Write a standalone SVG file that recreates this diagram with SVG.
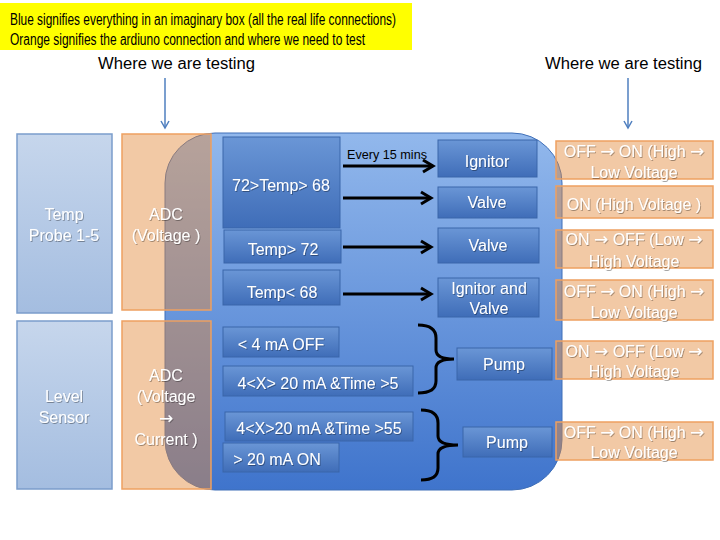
<svg xmlns="http://www.w3.org/2000/svg" width="720" height="540" viewBox="0 0 720 540">
<defs>
<linearGradient id="gBig" x1="0" y1="0" x2="0" y2="1">
<stop offset="0" stop-color="#92b8ec"/><stop offset="1" stop-color="#3f74cc"/>
</linearGradient>
<linearGradient id="gBox" x1="0" y1="0" x2="0" y2="1">
<stop offset="0" stop-color="#6a96d6"/><stop offset="1" stop-color="#3f6db8"/>
</linearGradient>
<linearGradient id="gLight" x1="0" y1="0" x2="0" y2="1">
<stop offset="0" stop-color="#c6d6ec"/><stop offset="1" stop-color="#a4bde0"/>
</linearGradient>
<filter id="sh" x="-10%" y="-20%" width="120%" height="140%">
<feDropShadow dx="0.8" dy="1" stdDeviation="0.6" flood-color="#000" flood-opacity="0.35"/>
</filter>
<marker id="ab" markerWidth="10" markerHeight="10" refX="8" refY="5" orient="auto" markerUnits="userSpaceOnUse">
<path d="M1,1 L8,5 L1,9" fill="none" stroke="#4f7fbf" stroke-width="1.5"/>
</marker>
<marker id="ak" markerWidth="16" markerHeight="16" refX="13" refY="8" orient="auto" markerUnits="userSpaceOnUse">
<path d="M3,2 L13,8 L3,14" fill="none" stroke="#000" stroke-width="3" stroke-linejoin="miter"/>
</marker>
</defs>
<style>
text{font-family:"Liberation Sans",Arial,sans-serif}
.w{fill:#fff;font-size:16px;text-anchor:middle;filter:url(#sh)}
.k{fill:#000}
.ar{font-family:"DejaVu Sans",sans-serif;font-size:17px}
.box{fill:url(#gBox);stroke:#3a66aa;stroke-width:1}
.light{fill:url(#gLight);stroke:#7b9dcb;stroke-width:1.5}
.org{fill:#e38a3b;fill-opacity:0.46;stroke:#eea060;stroke-width:1.5}
.blk{stroke:#000;stroke-width:3;fill:none}
</style>
<rect width="720" height="540" fill="#fff"/>
<g id="banner">
<rect x="0" y="3" width="412" height="47" fill="#ffff00"/>
<text class="k" x="10" y="25" font-size="16" textLength="386" lengthAdjust="spacingAndGlyphs">Blue signifies everything in an imaginary box (all the real life connections)</text>
<text class="k" x="10" y="45" font-size="16" textLength="355" lengthAdjust="spacingAndGlyphs">Orange signifies the ardiuno connection and where we need to test</text>
</g>
<g id="testing-left">
<text class="k" x="98" y="69" font-size="16" textLength="157" lengthAdjust="spacingAndGlyphs">Where we are testing</text>
</g>
<g id="testing-right">
<text class="k" x="545" y="69" font-size="16" textLength="157" lengthAdjust="spacingAndGlyphs">Where we are testing</text>
</g>
<g id="temp-probe">
<rect class="light" x="17" y="134" width="95" height="179"/>
<text class="w" x="64" y="220">Temp</text>
<text class="w" x="64" y="241">Probe 1-5</text>
</g>
<g id="level-sensor">
<rect class="light" x="17" y="321" width="95" height="168"/>
<text class="w" x="64" y="402">Level</text>
<text class="w" x="64" y="423">Sensor</text>
</g>
<g id="blue-box">
<rect x="165" y="133" width="397" height="357" rx="50" ry="50" fill="url(#gBig)" stroke="#3f6fb8" stroke-width="1"/>
</g>
<g id="adc-1">
<rect class="org" x="122" y="134" width="89" height="176"/>
<text class="w" x="166" y="220">ADC</text>
<text class="w" x="166" y="241">(Voltage )</text>
</g>
<g id="adc-2">
<rect class="org" x="122" y="321" width="89" height="168"/>
<text class="w" x="166" y="381">ADC</text>
<text class="w" x="166" y="402">(Voltage</text>
<text class="w ar" x="166" y="424">→</text>
<text class="w" x="166" y="445">Current )</text>
</g>
<g id="c1"><rect class="box" x="223" y="137" width="117" height="91"/><text class="w" x="281" y="191">72&gt;Temp&gt; 68</text></g>
<g id="c2"><rect class="box" x="224" y="230" width="117" height="33"/><text class="w" x="283" y="255">Temp&gt; 72</text></g>
<g id="c3"><rect class="box" x="223" y="270" width="117" height="35"/><text class="w" x="282" y="298">Temp&lt; 68</text></g>
<g id="c4"><rect class="box" x="223" y="327" width="116" height="30"/><text class="w" x="281" y="350">&lt; 4 mA OFF</text></g>
<g id="c5"><rect class="box" x="223" y="366" width="190" height="30"/><text class="w" x="318" y="389">4&lt;X&gt; 20 mA &amp;Time &gt;5</text></g>
<g id="c6"><rect class="box" x="225" y="412" width="188" height="29"/><text class="w" x="319" y="434">4&lt;X&gt;20 mA &amp;Time &gt;55</text></g>
<g id="c7"><rect class="box" x="223" y="443" width="116" height="29"/><text class="w" x="277" y="465">&gt; 20 mA ON</text></g>
<g id="a1"><rect class="box" x="438" y="140" width="99" height="37"/><text class="w" x="487" y="167">Ignitor</text></g>
<g id="a2"><rect class="box" x="438" y="187" width="99" height="31"/><text class="w" x="487" y="208">Valve</text></g>
<g id="a3"><rect class="box" x="438" y="228" width="101" height="35"/><text class="w" x="488" y="251">Valve</text></g>
<g id="a4"><rect class="box" x="438" y="278" width="101" height="39"/><text class="w" x="489" y="294">Ignitor and</text><text class="w" x="489" y="314">Valve</text></g>
<g id="a5"><rect class="box" x="457" y="348" width="95" height="32"/><text class="w" x="504" y="370">Pump</text></g>
<g id="a6"><rect class="box" x="463" y="427" width="89" height="30"/><text class="w" x="507" y="448">Pump</text></g>
<g id="o1"><rect class="org" x="556" y="141" width="157" height="38"/><text class="w" x="634" y="157">OFF <tspan class="ar">→</tspan> ON (High <tspan class="ar">→</tspan></text><text class="w" x="634" y="178">Low Voltage</text></g>
<g id="o2"><rect class="org" x="556" y="186" width="157" height="32"/><text class="w" x="634" y="210">ON (High Voltage )</text></g>
<g id="o3"><rect class="org" x="556" y="230" width="157" height="38"/><text class="w" x="634" y="245">ON <tspan class="ar">→</tspan> OFF (Low <tspan class="ar">→</tspan></text><text class="w" x="634" y="267">High Voltage</text></g>
<g id="o4"><rect class="org" x="556" y="280" width="157" height="40"/><text class="w" x="634" y="297">OFF <tspan class="ar">→</tspan> ON (High <tspan class="ar">→</tspan></text><text class="w" x="634" y="318">Low Voltage</text></g>
<g id="o5"><rect class="org" x="556" y="341" width="157" height="38"/><text class="w" x="634" y="357">ON <tspan class="ar">→</tspan> OFF (Low <tspan class="ar">→</tspan></text><text class="w" x="634" y="377">High Voltage</text></g>
<g id="o6"><rect class="org" x="556" y="422" width="157" height="38"/><text class="w" x="634" y="438">OFF <tspan class="ar">→</tspan> ON (High <tspan class="ar">→</tspan></text><text class="w" x="634" y="458">Low Voltage</text></g>
<g id="connectors">
<line x1="165" y1="78" x2="165" y2="128" stroke="#4f7fbf" stroke-width="1.5" marker-end="url(#ab)"/>
<line x1="628" y1="78" x2="628" y2="128" stroke="#4f7fbf" stroke-width="1.5" marker-end="url(#ab)"/>
<line class="blk" x1="343" y1="166" x2="433" y2="166" marker-end="url(#ak)"/>
<text class="k" x="347" y="159" font-size="12" textLength="80" lengthAdjust="spacingAndGlyphs">Every 15 mins</text>
<line class="blk" x1="343" y1="198" x2="431" y2="198" marker-end="url(#ak)"/>
<line class="blk" x1="343" y1="247" x2="431" y2="247" marker-end="url(#ak)"/>
<line class="blk" x1="343" y1="294" x2="431" y2="294" marker-end="url(#ak)"/>
<path class="blk" d="M418 325 Q436 325 436 338 L436 350 Q436 359 454 359 Q436 359 436 368 L436 381 Q436 393 418 393"/>
<path class="blk" d="M421 410 Q438 410 438 423 L438 436 Q438 445 458 445 Q438 445 438 454 L438 468 Q438 480 421 480"/>
</g>
</svg>
